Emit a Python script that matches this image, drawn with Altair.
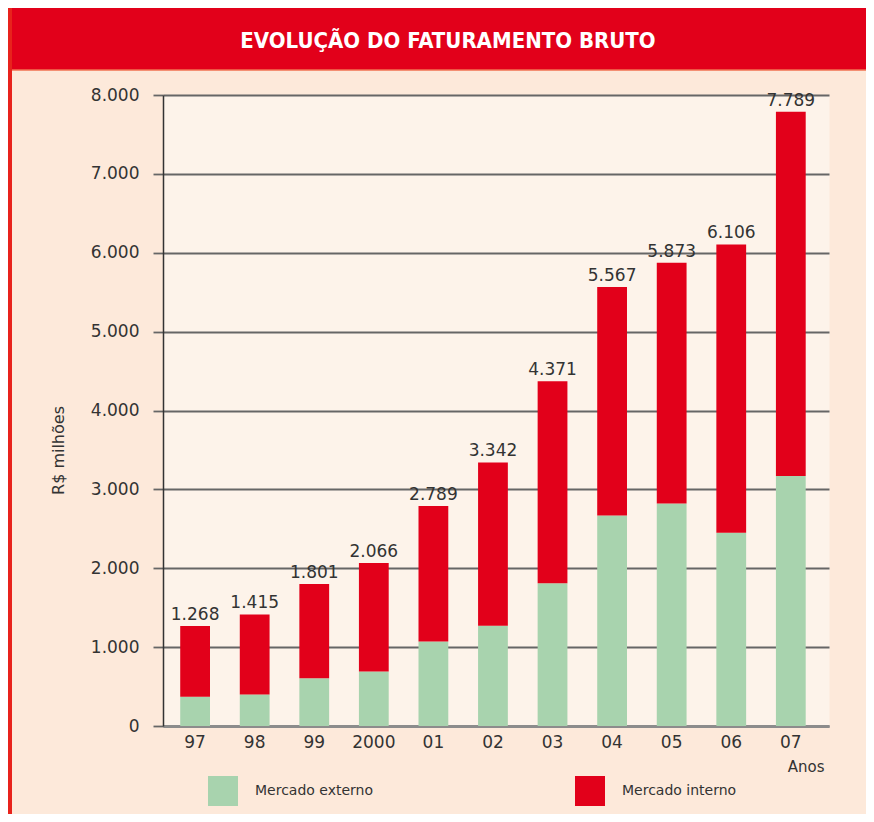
import altair as alt
import pandas as pd

# ---- data ----
anos = ["97", "98", "99", "2000", "01", "02", "03", "04", "05", "06", "07"]
total = [1268, 1415, 1801, 2066, 2789, 3342, 4371, 5567, 5873, 6106, 7789]
externo = [370, 400, 605, 690, 1070, 1270, 1810, 2670, 2820, 2450, 3170]
interno = [898, 1015, 1196, 1376, 1719, 2072, 2561, 2897, 3053, 3656, 4619]
series = ["Mercado externo", "Mercado interno"]
cores = ["#a8d3ae", "#e2001a"]
titulo = "EVOLUÇÃO DO FATURAMENTO BRUTO"
y_ticks = [0, 1000, 2000, 3000, 4000, 5000, 6000, 7000, 8000]

rows = []
for i, a in enumerate(anos):
    rows.append({"ano": a, "serie": series[0], "valor": externo[i], "ord": 0})
    rows.append({"ano": a, "serie": series[1], "valor": interno[i], "ord": 1})
bars_df = pd.DataFrame(rows)
tot_df = pd.DataFrame({
    "ano": anos,
    "total": total,
    "label": [f"{t:,}".replace(",", ".") for t in total],
})
deco_df = pd.DataFrame({"k": [0]})

FONT = "DejaVu Sans"
TITLE_FONT = "'DejaVu Sans Condensed', 'Liberation Sans Narrow', 'Roboto Condensed', 'Arial Narrow', sans-serif"
TXT = "#333333"

x_scale = alt.Scale(domain=anos, paddingInner=0.5, paddingOuter=0.34, align=0.425)
y_scale = alt.Scale(domain=[0, 8000], nice=False)

x_axis = alt.Axis(
    title="Anos", titleAnchor="end", titleAlign="right", titleX=661, titleY=45,
    titleBaseline="alphabetic", titleFont=FONT, titleFontSize=15, titleFontWeight="normal",
    titleColor=TXT, labelAngle=0, labelFont=FONT, labelFontSize=17, labelColor=TXT,
    labelPadding=8, ticks=False, domainColor="#8c8c8c", domainWidth=3, grid=False,
)
y_axis = alt.Axis(
    title="R$ milhões", values=y_ticks,
    labelExpr="replace(format(datum.value, ','), ',', '.')",
    labelFont=FONT, labelFontSize=17, labelColor=TXT, labelPadding=14,
    tickSize=10, tickColor="#666666", tickWidth=1.8,
    domainColor="#333333", domainWidth=1.5,
    grid=True, gridColor="#666666", gridWidth=1.8,
    titleX=-100, titleY=355, titleAngle=270, titleAlign="center",
    titleBaseline="alphabetic", titleFont=FONT, titleFontSize=16,
    titleFontWeight="normal", titleColor=TXT,
)

bars = alt.Chart(bars_df).mark_bar().encode(
    x=alt.X("ano:N", sort=anos, scale=x_scale, axis=x_axis),
    y=alt.Y("valor:Q", stack="zero", scale=y_scale, axis=y_axis),
    color=alt.Color(
        "serie:N",
        scale=alt.Scale(domain=series, range=cores),
        legend=alt.Legend(
            orient="none", legendX=45, legendY=681, direction="horizontal",
            title=None, symbolType="square", symbolSize=900, symbolStrokeWidth=0,
            symbolOpacity=1, labelFont=FONT, labelFontSize=14, labelColor=TXT,
            labelOffset=17, columnPadding=201, padding=0,
        ),
    ),
    order=alt.Order("ord:Q", sort="ascending"),
)

labels = alt.Chart(tot_df).mark_text(
    baseline="alphabetic", dy=-6, font=FONT, fontSize=17, color=TXT
).encode(
    x=alt.X("ano:N", sort=anos, scale=x_scale, axis=x_axis),
    y=alt.Y("total:Q", scale=y_scale, axis=y_axis),
    text="label:N",
)

banner = alt.Chart(deco_df).mark_rect(color="#e2001a").encode(
    x=alt.value(-155), x2=alt.value(703), y=alt.value(-87), y2=alt.value(-25)
)
banner_edge = alt.Chart(deco_df).mark_rule(color="#f07050", strokeWidth=1.5).encode(
    x=alt.value(-151), x2=alt.value(703), y=alt.value(-25)
)
border = alt.Chart(deco_df).mark_rule(color="#e8231c", strokeWidth=4).encode(
    x=alt.value(-153), y=alt.value(-87), y2=alt.value(719)
)
title_txt = alt.Chart(deco_df).mark_text(
    font=TITLE_FONT, fontSize=22, fontWeight="bold", color="white",
    align="center", baseline="alphabetic"
).encode(
    x=alt.value(285), y=alt.value(-47), text=alt.value(titulo)
)

chart = alt.layer(banner, banner_edge, border, bars, labels, title_txt).properties(
    width=666, height=631,
    background="#fde9da",
    autosize=alt.AutoSizeParams(type="none"),
    padding={"left": 155, "top": 87, "right": 37, "bottom": 88},
).configure_view(stroke="transparent", fill="#fdf3ea")

chart.save("out.html", embed_options={"renderer": "svg", "actions": False})
